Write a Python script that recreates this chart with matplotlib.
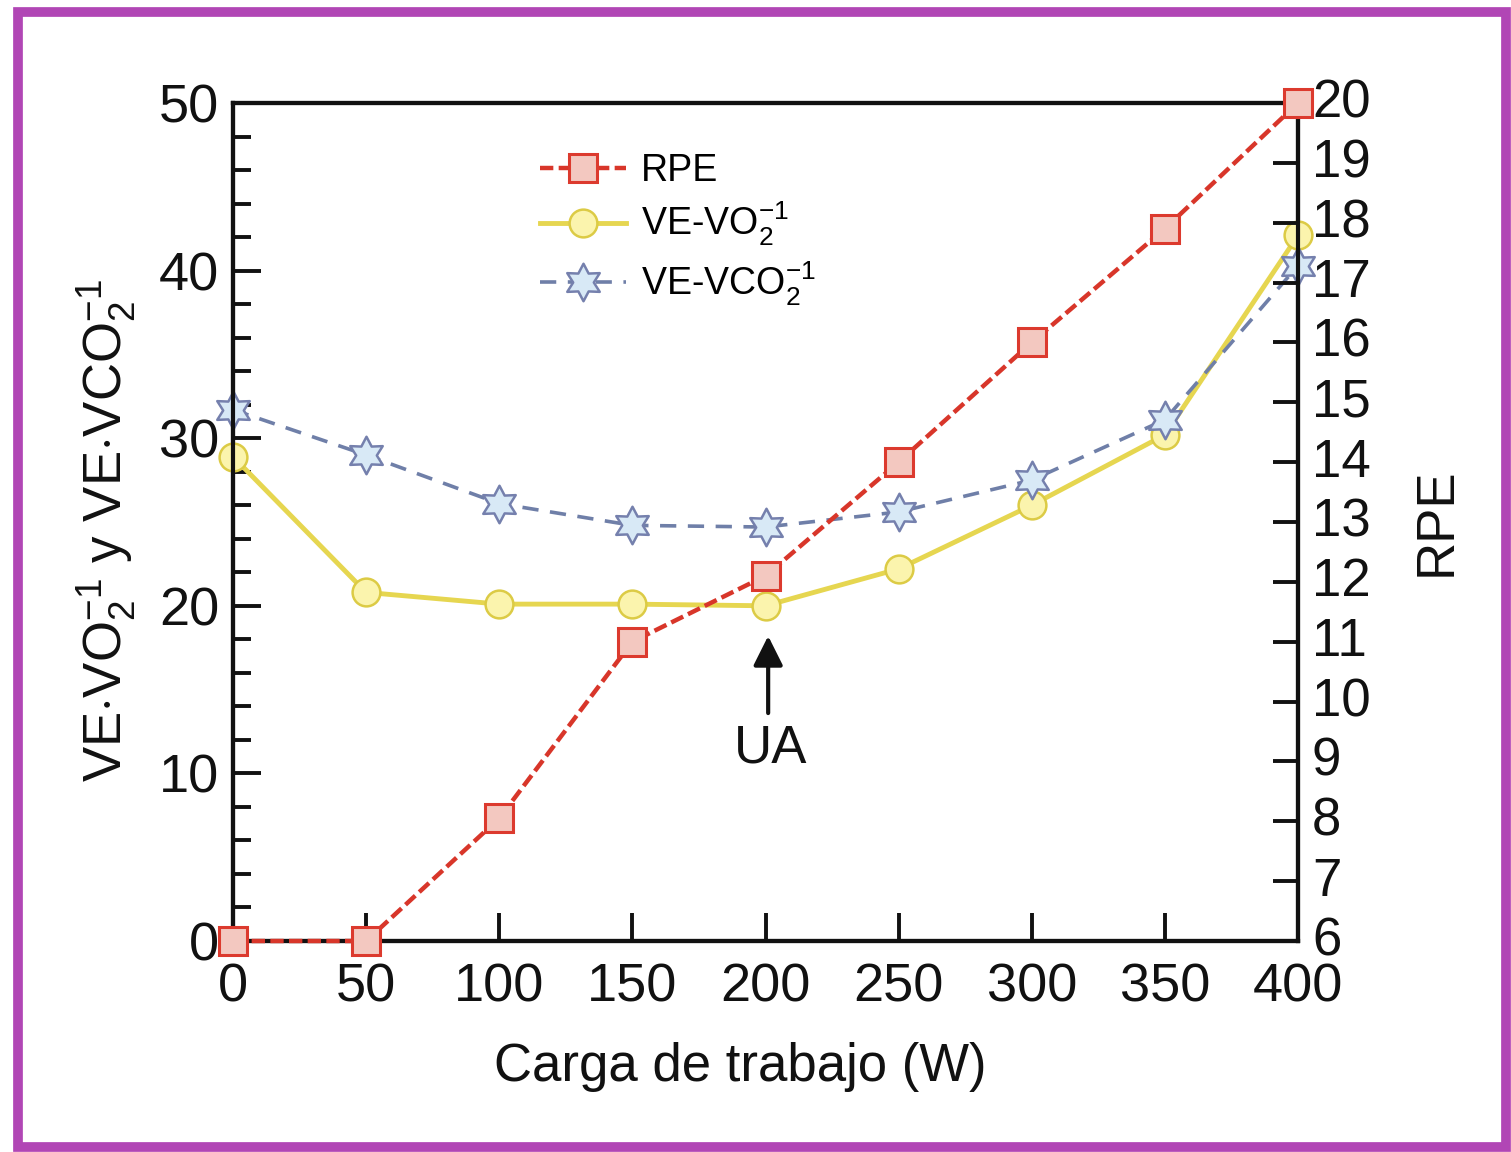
import matplotlib
matplotlib.use("Agg")
import matplotlib.pyplot as plt
import matplotlib.transforms as mtransforms
from matplotlib.path import Path
from matplotlib.patches import Rectangle
from matplotlib.ticker import MultipleLocator

plt.rcParams['font.family'] = ['Liberation Sans', 'DejaVu Sans']
plt.rcParams['mathtext.fontset'] = 'custom'
plt.rcParams['mathtext.rm'] = 'Liberation Sans'
plt.rcParams['mathtext.it'] = 'Liberation Sans'
plt.rcParams['mathtext.bf'] = 'Liberation Sans:bold'

# ---- data ----
carga = [0, 50, 100, 150, 200, 250, 300, 350, 400]
rpe = [6, 6, 8.05, 11, 12.1, 14, 16, 17.9, 20]
ve_vo2 = [28.9, 20.8, 20.1, 20.1, 20.0, 22.2, 26.0, 30.2, 42.1]
ve_vco2 = [31.7, 29.0, 26.1, 24.8, 24.7, 25.6, 27.5, 31.1, 40.3]
xticks = [0, 50, 100, 150, 200, 250, 300, 350, 400]
left_ticks = [0, 10, 20, 30, 40, 50]
right_ticks = list(range(6, 21))
ua_x = 200

W, H = 1511, 1152
fig = plt.figure(figsize=(W / 100, H / 100), dpi=100)
fig.patch.set_facecolor('white')

AX_L, AX_R, AX_T, AX_B = 233, 1298, 103, 941
AW, AH = AX_R - AX_L, AX_B - AX_T
ax = fig.add_axes([AX_L / W, 1 - AX_B / H, AW / W, AH / H])
ax2 = ax.twinx()

star6 = Path.unit_regular_star(6, 0.55)

l2, = ax.plot(carga, ve_vo2, color='#e6d650', lw=3.5, marker='o', ms=20,
              mfc='#fbf4ad', mec='#dccb45', mew=1.8, zorder=3, clip_on=False,
              label='VE-VO$_2^{-1}$')
l3, = ax.plot(carga, ve_vco2, color='#6f7fa8', lw=2.6, dashes=(4.5, 3.2),
              marker=star6, ms=27, mfc='#d8e9f6', mec='#7580ad', mew=1.8,
              zorder=4, clip_on=False, label='VE-VCO$_2^{-1}$')
l1, = ax2.plot(carga, rpe, color='#d8362a', lw=3.2, dashes=(3, 1.2),
               marker='s', ms=20, mfc='#f3c8c0', mec='#dc3a2e', mew=2.2,
               zorder=5, clip_on=False, label='RPE')

ax.set_xlim(0, 400)
ax.set_ylim(0, 50)
ax2.set_ylim(6, 20)
ax.set_xticks(xticks)
ax.set_yticks(left_ticks)
ax.yaxis.set_minor_locator(MultipleLocator(2))
ax2.set_yticks(right_ticks)

for a in (ax, ax2):
    for s in a.spines.values():
        s.set_linewidth(3)
        s.set_color('#111111')
    a.set_facecolor('none')

ax.tick_params(axis='both', which='major', direction='in', length=20, width=2.8,
               labelsize=39, pad=10, colors='#111111', top=False, right=False)
ax.tick_params(axis='y', which='minor', direction='in', length=13, width=2.8,
               colors='#111111', right=False)
ax.tick_params(axis='x', pad=15.5)
ax2.tick_params(axis='y', which='major', direction='in', length=18, width=2.8,
                labelsize=38, pad=10, colors='#111111')
# nudge right-hand tick labels up slightly so "6" clears "400"
up = mtransforms.ScaledTranslation(0, 5 / 100, fig.dpi_scale_trans)
for lab in ax2.get_yticklabels():
    lab.set_transform(lab.get_transform() + up)

ax.set_xlabel('Carga de trabajo (W)', fontsize=38, color='#111111')
ax.xaxis.set_label_coords((740 - AX_L) / AW, -(1042 - AX_B) / AH)
ax.set_ylabel(r'VE$\cdot$VO$_2^{-1}$ y VE$\cdot$VCO$_2^{-1}$', fontsize=38,
              color='#111111')
ax.yaxis.set_label_coords(-(AX_L - 138) / AW, 0.49)
ax2.set_ylabel('RPE', fontsize=38, color='#111111')
ax2.yaxis.set_label_coords(1 + (1412 - AX_R) / AW, 0.5)

# UA arrow
ax.annotate('', xy=(ua_x + 1, 18.2), xytext=(ua_x + 1, 13.6),
            arrowprops=dict(arrowstyle='-|>', color='#111111', lw=3,
                            mutation_scale=45, shrinkA=0, shrinkB=0))
ax.text(ua_x + 2, 11.5, 'UA', fontsize=38, ha='center', va='center',
        color='#111111')

leg = ax2.legend(handles=[l1, l2, l3], loc='upper left',
                 bbox_to_anchor=((540 - AX_L) / AW, 1 - (153 - AX_T) / AH),
                 frameon=False, fontsize=27, handlelength=2.3, handletextpad=0.4,
                 borderpad=0, labelspacing=0.3, borderaxespad=0)

# purple border
fig.patches.append(Rectangle((18 / W, 1 - 1147 / H), (1506 - 18) / W, (1147 - 12) / H,
                             transform=fig.transFigure, fill=False,
                             edgecolor='#b146b5', lw=7, zorder=10))

fig.savefig('out.png', dpi=100, facecolor='white')
